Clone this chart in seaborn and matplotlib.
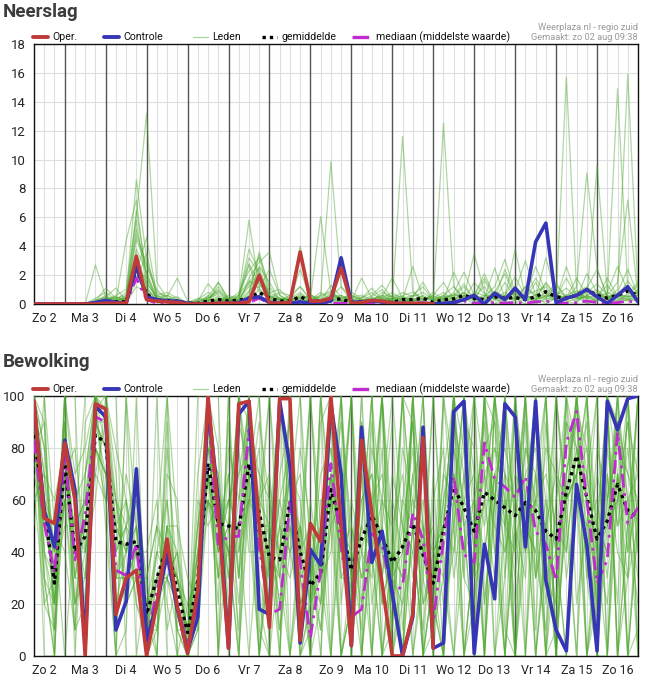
import pandas as pd
import seaborn as sns
import matplotlib

matplotlib.use("Agg")
import matplotlib.pyplot as plt
from matplotlib.lines import Line2D

# tijdstappen (uren vanaf zo 2 aug 00:00), elke 6 uur
uren = list(range(6, 361, 6))
dagen = ["Zo 2", "Ma 3", "Di 4", "Wo 5", "Do 6", "Vr 7", "Za 8", "Zo 9",
         "Ma 10", "Di 11", "Wo 12", "Do 13", "Vr 14", "Za 15", "Zo 16"]

# ---- Neerslag (mm) ----
neer_oper = [0, 0, 0, 0, 0, 0, 0, 0.05, 0.05, 0.05,
             3.3, 0.3, 0.2, 0.15, 0.1, 0, 0, 0, 0.05, 0.05,
             0.05, 0.15, 2.0, 0.05, 0.05, 0.1, 3.6, 0.2, 0.2, 0.4,
             2.5, 0.05, 0.1, 0.25, 0.2, 0.05, 0.05, 0.05, 0.02, 0]
neer_controle = [0, 0, 0, 0, 0, 0, 0.1, 0.25, 0.1, 0.05,
                 2.6, 0.5, 0.3, 0.2, 0.2, 0.05, 0, 0, 0.05, 0.05,
                 0.1, 0.4, 0.5, 0.1, 0.05, 0.05, 0.15, 0.05, 0.1, 0.2,
                 3.2, 0.1, 0.15, 0.2, 0.15, 0.05, 0.05, 0.02, 0, 0,
                 0.05, 0.1, 0.3, 0.6, 0, 0.75, 0.3, 1.1, 0.3, 4.3,
                 5.6, 0.1, 0.4, 0.6, 1.0, 0.5, 0.05, 0.6, 1.2, 0.15]
neer_gem = [0, 0, 0, 0, 0, 0, 0.05, 0.15, 0.15, 0.15,
            2.4, 0.7, 0.2, 0.25, 0.2, 0.05, 0.05, 0.2, 0.3, 0.2,
            0.25, 0.4, 0.8, 0.4, 0.2, 0.2, 0.5, 0.2, 0.2, 0.3,
            0.35, 0.1, 0.15, 0.2, 0.15, 0.1, 0.3, 0.3, 0.4, 0.1,
            0.3, 0.35, 0.6, 0.4, 0.3, 0.5, 0.4, 0.45, 0.3, 0.5,
            0.85, 0.5, 0.4, 0.6, 1.0, 0.6, 0.4, 0.6, 0.9, 0.6]
neer_med = [0, 0, 0, 0, 0, 0, 0, 0.02, 0.02, 0.02,
            1.8, 0.3, 0.05, 0.05, 0.02, 0, 0, 0.02, 0.05, 0.02,
            0.02, 0.1, 0.4, 0.05, 0.02, 0.02, 0.05, 0.02, 0.02, 0.05,
            0.05, 0.02, 0.02, 0.05, 0.02, 0.02, 0.05, 0.05, 0.1, 0.02,
            0.05, 0.1, 0.2, 0.05, 0.05, 0.1, 0.05, 0.1, 0.05, 0.15,
            0.2, 0.1, 0.05, 0.1, 0.2, 0.1, 0.05, 0.1, 0.2, 0.1]
neer_leden = [
    "0 0 0 0 0 0 0 0.3 0.2 0.5  3.5 1.2 0.2 0.1 0 0 0 0.2 0.4 0.1  0.3 1.5 2.5 0.5 0 0 0.3 0.2 0 0.4  0.2 0 0 0.5 1 0.2 0 0.3 0.1 0  0 0.5 1.2 0.3 0 0.8 2.1 0.4 0 0.3  1.5 0.6 0.2 0 1.1 2.4 0.5 0 0.3 1",
    "0 0 0 0 0 0 0.2 1.1 0.4 0.3  5.2 2.1 0.4 0.2 0.1 0 0 0.5 1.5 0.3  0 0.8 3.4 1.2 0.2 0 0.5 0 0.1 0.6  0.3 0.1 0 0 0.4 0.8 0.3 0 0 0.2  0.5 0 0.3 1.5 0.7 0 0.2 0.9 3 0.6  0 0.4 1.8 0.5 0 0.3 0.8 2.6 0.9 0.2",
    "0 0 0 0 0 0 2.7 0.5 0.1 0.6  8.6 3.1 0.6 0.3 0 0 0 0 0.3 0.2  0.5 5.8 1.1 0.3 0 0.4 1.2 0.3 0 0.2  0.1 0.3 0 0 0.2 0.1 0 0.6 1.2 0.2  0 0.3 0.8 0.2 1.6 0.4 0 0.3 0.5 1.8  0.7 0.2 15.7 1 0 0.5 1.3 0.4 0.2 0.8",
    "0 0 0 0 0 0 0 0.2 0.6 1  6.1 13.2 1.5 0.4 0.2 0 0 0.3 0.8 0.2  0 1.8 2.9 3.6 0.6 0.2 0 0.3 0.6 9.85  1.2 0.2 0 0.3 0.6 0.2 0.3 0.5 0.8 0.3  0.6 1.2 0.4 0 0.5 1.2 3.1 0.8 0.3 0  0.4 1.3 0.5 0.2 0.6 1 0.3 0.8 2.4 0.6",
    "0 0 0 0 0 0 0.1 0.5 1.1 0.2  4.5 2.6 0.8 0.5 1.8 0.2 0 0.1 1.5 0.4  0.2 0.6 3.6 0.8 1 0.3 4 0.7 0 0.5  0.2 0.6 0.3 0.1 0.4 0.2 11.6 0.9 0.3 0  0.2 0.8 2.2 0.6 0.3 0 0.6 1.9 0.5 0.2  0.9 0.4 0.3 1.2 9.07 2.5 0.5 0.2 0.7 1.5",
    "0 0 0 0 0 0 0.4 0.8 0.3 0.2  2.4 1.8 0.3 0.6 0.2 0 0.3 0.8 0.5 0.1  0.6 2.8 1.4 0.4 0.8 0.6 1.2 0.3 6.05 0.8  0.2 0 0.4 0.8 0.2 0.6 0.5 0.2 0.4 0.3  12.5 1.2 0.3 0.6 2.1 0.5 0.3 0.4 1.2 0.6  0.3 0.6 1.1 0.4 0.3 9.6 0.8 0.5 0.3 0.2",
    "0 0 0 0 0 0 0 0.3 0.2 4.4  7.2 1.5 0.4 0.2 0.3 0 0 0.4 0.9 0.2  0.4 3.8 2.2 0.5 0.3 0.2 0.4 0.5 0.2 1.3  0.5 0.3 0.2 0.6 1.3 0.4 0.2 0.3 0.6 0.2  0.4 0.7 0.5 3.5 0.8 0.3 1.5 0.4 0.6 2.6  0.8 0.3 0.6 0.9 0.4 0.2 0.6 14.9 1.1 0.4",
    "0 0 0 0 0 0 0.2 0.6 0.2 0.4  3.1 0.9 0.5 0.3 0.2 0.1 0.4 0.2 1.2 0.3  0.8 2.3 3.2 0.6 0.2 0.3 2.4 0.4 0.3 0.6  0.3 0.2 0.5 0.2 0.4 0.3 0.6 0.8 0.3 0.4  0.8 0.3 0.6 0.4 0.3 0.9 0.5 0.7 0.4 0.6  1.4 0.5 0.4 0.8 1.2 0.6 0.4 1 15.9 0.8",
    "0 0 0 0 0 0 0 0.1 0.3 0.8  2.2 4.6 0.6 0.8 0.4 0.1 0 0.3 0.2 0.6  0.3 1.2 1.9 0.8 0.4 0.2 0.6 0.2 0.5 0.8  0.4 0.6 0.3 0.2 0.5 1.8 0.4 0.3 0.2 0.6  1.5 0.3 0.2 0.8 0.6 0.4 2.4 0.6 0.3 0.4  3.2 0.6 0.5 0.4 2.1 0.8 0.6 1.5 7.2 0.5",
    "0 0 0 0 0 0 0.3 0.4 0.1 0.2  1.6 3.5 0.4 0.2 0.1 0 0.2 1.4 0.6 0.2  0.2 0.5 2.6 1.5 0.3 0.4 0.8 0.2 0.2 0.5  1.2 0.5 0.6 0.3 0.2 0.4 0.8 0.5 1.5 0.3  0.5 0.6 1.4 0.3 0.4 2.5 0.4 0.3 1.2 0.5  0.6 1.5 0.3 0.6 0.5 0.4 1.8 0.5 0.6 1.3",
    "0 0 0 0 0 0 0 0.2 0.5 0.3  5.8 1.1 0.2 0.4 0.2 0 0 0.2 0.3 0.4  0.6 1.6 1.1 2.4 0.6 0.2 0.3 0.6 0.4 0.2  0.6 0.2 1.8 0.4 0.3 0.2 0.5 0.3 0.2 0.8  0.3 2.2 0.6 0.5 1.2 0.3 0.6 0.4 0.3 1.5  0.4 0.3 2.6 0.5 0.4 0.3 0.5 0.6 0.3 0.4",
    "0 0 0 0 0 0 0.1 0.2 0.4 0.6  3.8 2.2 0.4 0.3 0.5 0 0.1 0.6 0.4 0.2  0.3 2.7 0.8 0.4 0.2 0.5 0.2 0.3 0.8 0.3  0.2 0.4 0.3 0.2 0.8 0.5 0.3 2.6 0.4 0.2  0.6 0.4 0.3 0.6 1.8 0.6 0.4 3.8 0.5 0.3  0.5 0.6 0.4 1.8 0.6 0.8 0.4 0.5 1.6 0.7",
    "0 0 0 0 0 0 0 0 0.2 0.1  1.2 0.8 0.2 0.1 0 0 0 0.1 0.3 0.1  0.1 0.4 1 0.3 0.1 0 0.2 0.1 0.1 0.3  0.1 0.1 0.2 0.1 0.2 0.1 0.3 0.2 0.1 0.1  0.3 0.2 0.4 0.2 0.1 0.3 0.2 0.1 0.3 0.2  0.2 0.4 0.2 0.3 0.6 0.2 0.3 0.2 0.4 0.3",
    "0 0 0 0 0 0 0.2 0.5 0.3 0.4  4.8 2.8 1 0.3 0.2 0.1 0.2 0.3 0.2 0.4  0.2 0.9 1.6 0.6 0.4 0.3 0.5 0.2 0.6 0.9  0.3 0.8 0.4 1.1 0.3 0.4 0.2 0.4 0.3 0.6  0.2 0.5 0.8 0.3 0.5 0.4 0.8 0.3 0.6 0.9  1.2 0.3 0.5 0.4 0.8 1.4 0.6 0.3 0.5 0.6",
    "0 0 0 0 0 0 0 0.4 0.2 0.3  6.5 1.9 0.3 0.2 0.1 0 0.1 0.5 0.2 0.3  0.5 3.2 2.1 0.3 0.4 0.2 0.7 0.3 0.2 0.5  0.6 0.3 0.2 0.4 0.5 0.3 0.4 0.6 0.5 0.3  0.4 0.6 0.5 0.4 0.6 0.5 0.3 0.8 0.6 0.4  0.5 0.8 0.6 0.5 0.4 0.6 0.5 0.7 0.5 0.8",
    "0 0 0 0 0 0 0.1 0.3 0.5 0.2  2.9 1.4 0.5 0.6 0.3 0 0.3 0.4 1 0.3  0.3 1.4 2 0.5 0.3 0.6 0.4 0.6 0.3 0.7  0.4 0.5 0.3 0.3 0.6 0.5 0.3 0.2 0.4 0.5  0.3 0.4 0.6 0.5 0.3 0.6 0.5 0.4 0.6 0.3  0.6 0.5 0.4 0.7 0.5 0.6 0.4 0.6 0.5 0.6",
]

# ---- Bewolking (%) ----
bew_oper = [98, 53, 51, 82, 60, 0, 97, 95, 16, 30,
            33, 0, 20, 45, 19, 1, 25, 100, 55, 3,
            97, 98, 50, 11, 99, 99, 6, 51, 44, 100,
            50, 4, 83, 55, 28, 0, 0, 16, 84, 3]
bew_controle = [97, 56, 42, 83, 64, 5, 96, 92, 10, 21,
                72, 6, 20, 39, 18, 2, 15, 97, 60, 3,
                93, 98, 18, 16, 98, 73, 5, 41, 35, 97,
                70, 4, 88, 36, 48, 24, 0, 15, 88, 3,
                5, 94, 98, 1, 43, 22, 97, 92, 42, 98,
                29, 10, 2, 66, 43, 2, 98, 87, 99, 100]
bew_gem = [85, 57, 28, 74, 40, 46, 85, 82, 44, 43,
           44, 16, 30, 42, 25, 9, 29, 74, 51, 50,
           49, 74, 55, 38, 37, 59, 40, 27, 32, 64,
           50, 33, 45, 54, 46, 36, 42, 51, 39, 28,
           48, 65, 57, 48, 63, 60, 57, 54, 59, 56,
           48, 45, 63, 77, 61, 45, 52, 66, 56, 53]
bew_med = [83, 51, 32, 78, 37, 54, 92, 90, 33, 31,
           43, 6, 25, 41, 20, 4, 19, 95, 43, 46,
           46, 87, 42, 16, 18, 59, 36, 7, 33, 74,
           42, 15, 18, 47, 43, 24, 27, 55, 45, 13,
           45, 69, 39, 36, 82, 68, 65, 61, 69, 48,
           43, 29, 82, 94, 60, 28, 37, 86, 51, 57]
bew_leden = [
    "100 70 20 90 30 60 100 95 30 50  60 5 20 60 10 0 20 90 60 40  70 95 60 20 40 80 30 10 40 90  70 20 60 70 40 20 50 80 30 10  60 90 70 30 80 90 50 40 70 80  30 20 70 95 80 30 60 90 70 50",
    "90 40 10 60 50 30 95 100 60 30  40 20 40 30 20 5 40 60 30 70  30 80 40 50 20 60 50 30 20 70  40 50 30 60 70 30 20 40 60 30  40 70 50 60 40 70 80 60 40 60  70 50 40 80 50 60 30 70 40 60",
    "100 80 40 80 20 50 90 70 50 60  20 10 10 50 40 0 10 100 40 60  50 60 80 30 60 40 20 40 10 50  60 30 50 40 30 60 40 60 20 40  30 50 80 40 70 50 40 70 60 30  50 70 60 70 90 20 80 50 80 40",
    "70 50 30 100 60 20 100 90 20 40  70 0 30 40 30 10 50 80 70 30  60 100 50 40 30 70 60 20 50 80  30 40 20 80 60 50 70 30 50 20  70 60 40 50 90 40 60 30 80 70  40 30 90 60 40 70 50 90 60 30",
    "95 30 0 70 80 40 60 100 70 20  30 30 50 20 0 20 30 70 20 90  40 60 90 60 10 40 80 50 30 100  20 60 40 30 80 10 60 90 40 50  20 40 90 80 20 60 100 50 30 90  60 10 50 100 70 40 20 60 90 70",
    "100 60 50 40 10 70 100 80 40 70  50 15 0 70 60 0 40 100 80 10  90 70 30 10 70 90 10 60 30 40  80 10 70 50 20 40 30 70 80 40  50 80 30 20 60 100 30 80 50 40  10 60 80 90 60 20 70 40 30 80",
    "80 90 30 60 40 10 80 60 60 20  40 40 60 10 30 10 10 60 50 50  10 90 70 60 40 30 50 0 60 60  50 40 10 90 30 70 50 40 10 60  80 30 60 70 50 80 60 20 60 100  30 40 60 70 80 50 40 100 50 20",
    "100 40 20 100 70 80 100 100 80 60  30 10 20 50 50 30 20 90 30 80  60 80 50 20 50 70 20 30 70 80  60 30 90 20 50 30 40 90 20 30  70 100 80 40 60 30 70 60 90 30  60 40 70 90 30 80 60 80 70 60",
    "60 70 60 80 20 40 70 90 20 30  50 0 30 30 10 0 60 50 60 30  80 40 40 40 10 50 40 50 30 70  40 20 40 60 40 20 60 50 40 10  30 70 40 60 80 60 50 90 40 70  20 80 30 60 50 30 90 50 60 70",
    "90 20 30 50 50 60 90 80 60 50  70 25 10 80 30 10 20 70 40 60  20 70 60 70 30 60 70 30 10 60  90 50 30 40 60 30 80 60 50 40  50 40 70 30 40 70 40 60 50 40  80 70 40 80 60 50 40 70 30 50",
    "100 90 10 90 40 50 100 90 50 20  30 10 40 40 20 5 30 80 70 20  50 90 40 30 60 80 40 20 40 90  30 30 60 70 20 40 30 70 40 30  60 80 60 50 70 80 70 40 80 60  50 20 90 80 70 40 50 60 90 40",
    "75 50 40 70 30 30 80 70 30 40  40 20 20 30 40 15 40 60 50 70  30 60 50 50 20 50 30 40 20 50  100 40 80 0 50 90 10 50 100 20  0 60 100 70 0 100 60 0 40 100  0 60 100 20 50 100 0 90 40 100",
    "100 60 20 80 60 70 90 80 40 50  20 5 40 60 20 0 10 90 50 60  70 80 70 30 50 40 50 20 30 70  0 20 90 60 100 0 20 100 50 0  100 70 0 40 100 40 0 60 100 10  90 40 0 70 100 10 70 20 100 0",
    "85 30 20 60 10 20 100 90 60 40  60 30 50 40 30 20 30 70 30 40  40 70 60 50 40 70 20 30 50 60  40 100 20 40 0 40 100 0 30 100  30 0 40 100 70 0 30 100 0 70  100 0 60 100 0 30 100 0 50 100",
    "100 80 30 70 50 60 70 60 30 60  40 10 20 50 10 10 50 80 60 40  0 70 100 40 0 60 100 40 0 60  100 30 0 50 100 30 0 50 40 100  40 0 70 100 20 70 0 50 100 0  40 100 60 0 70 100 0 70 0 50",
    "65 20 10 90 40 40 80 70 30 30  30 0 10 30 40 0 20 60 40 50  100 60 0 40 100 50 0 20 100 50  0 20 100 40 0 40 100 50 0 30  100 50 0 40 60 100 50 0 50 60  0 40 100 60 0 50 100 0 100 50",
    "100 50 30 80 30 50 100 100 50 40  50 20 30 40 30 5 30 90 60 50  50 100 20 0 40 100 40 0 20 100  50 0 50 100 50 0 40 100 0 30  50 100 50 0 100 60 0 100 60 0  40 0 100 80 60 0 60 100 60 0",
    "95 70 40 60 20 30 90 80 30 30  40 15 30 30 20 10 20 70 50 40  0 60 60 100 50 0 30 100 30 0  60 100 40 0 60 100 50 0 40 20  0 50 100 60 0 60 100 50 0 60  100 40 0 70 100 40 0 60 100 50",
    "80 60 20 70 50 40 90 90 40 50  40 20 20 50 30 10 40 70 40 50  100 70 0 40 100 60 0 20 100 60  0 30 50 100 0 30 100 50 0 30  50 100 0 40 100 0 50 100 60 0  50 100 60 70 0 40 100 70 0 60",
    "100 40 30 80 40 50 80 70 50 40  50 10 30 40 20 5 30 80 50 40  50 0 50 100 30 0 40 100 30 70  50 100 0 40 100 40 0 50 100 30  0 60 100 50 0 60 100 0 60 100  50 0 60 100 60 0 50 100 0 50",
    "100 100 0 100 10 90 100 100 0 10  100 0 0 90 0 0 0 100 100 0  100 90 10 0 100 100 0 10 90 100  0 20 100 100 0 10 100 90 0 10  100 100 0 20 100 90 10 0 100 100  0 10 100 100 0 20 100 90 0 10",
    "100 0 0 100 100 0 100 100 100 0  0 0 100 0 0 0 100 100 0 100  0 100 100 0 0 100 100 0 0 100  100 0 0 100 100 0 0 100 100 0  0 100 100 0 0 100 100 0 0 100  100 0 0 100 100 0 0 100 100 0",
    "50 100 50 0 50 100 100 50 0 100  50 0 50 100 50 0 50 100 0 50  100 50 0 50 100 0 50 100 50 0  50 100 0 50 100 50 0 100 50 0  50 100 50 0 100 50 0 50 100 50  0 100 50 0 100 50 100 0 50 100",
    "100 30 0 100 0 70 100 60 0 100  0 30 0 100 0 0 70 100 0 100  30 100 0 70 0 100 30 0 100 0  100 0 70 0 100 0 30 100 0 70  0 100 30 100 0 100 70 0 100 30  100 0 70 100 30 0 100 0 30 100",
]

ROOD = "#c03a3a"
BLAUW = "#3535b5"
GROEN = "#4ea82e"
MAGENTA = "#c02ad0"
W, H = 649, 680


def leden_frame(rijen):
    recs = []
    for lid, rij in enumerate(rijen):
        for uur, waarde in zip(uren, rij.split()):
            recs.append((lid, uur, float(waarde)))
    return pd.DataFrame(recs, columns=["lid", "uur", "waarde"])


def legenda(fig, y_px, top_px):
    # sleutel: (x-start lijn, x-start tekst, label, lijnstijl)
    items = [
        (33, 52, "Oper.", dict(color=ROOD, lw=2.8)),
        (104, 123, "Controle", dict(color=BLAUW, lw=2.8)),
        (193, 212, "Leden", dict(color="#a8d49a", lw=0.9)),
        (262, 281, "gemiddelde", dict(color="black", lw=2.4, ls=(0, (1, 1.2)))),
        (352, 376, "mediaan (middelste waarde)",
         dict(color=MAGENTA, lw=2.4, ls=(0, (5, 2, 1, 2)))),
    ]
    for x0, xt, label, stijl in items:
        fig.add_artist(Line2D([x0 / W, (xt - 4) / W], [1 - y_px / H] * 2,
                              transform=fig.transFigure, **stijl))
        fig.text(xt / W, 1 - y_px / H, label, fontsize=7.6, color="#111111",
                 ha="left", va="center")
    fig.text(638 / W, 1 - (top_px - 17) / H, "Weerplaza.nl - regio zuid",
             ha="right", va="center", fontsize=6.7, color="#999999")
    fig.text(638 / W, 1 - (top_px - 6) / H, "Gemaakt: zo 02 aug 09:38",
             ha="right", va="center", fontsize=6.7, color="#999999")


def paneel(ax, leden, gem, med, controle, oper, ymax, ystap, alpha):
    sns.lineplot(data=leden_frame(leden), x="uur", y="waarde", units="lid",
                 estimator=None, color=GROEN, lw=0.9, alpha=alpha, ax=ax,
                 legend=False, zorder=3)
    sns.lineplot(x=uren, y=gem, color="black", lw=2.4, ls=(0, (1, 1.2)), ax=ax, zorder=4)
    sns.lineplot(x=uren, y=med, color=MAGENTA, lw=2.0, ls=(0, (5, 2, 1, 2)), ax=ax, zorder=5)
    sns.lineplot(x=uren, y=controle, color=BLAUW, lw=2.6, ax=ax, zorder=6)
    sns.lineplot(x=uren[:len(oper)], y=oper, color=ROOD, lw=2.6, ax=ax, zorder=7)

    ax.set_xlim(6, 360)
    ax.set_ylim(0, ymax)
    ax.set_yticks(range(0, ymax + 1, ystap))
    ax.set_xticks([12 + 24 * k for k in range(len(dagen))])
    ax.set_xticklabels(dagen)
    ax.set_xticks(uren, minor=True)
    ax.set_xlabel("")
    ax.set_ylabel("")
    ax.tick_params(which="both", direction="out", length=4, width=0.8,
                   color="#333333", labelsize=9, pad=1.5)
    ax.tick_params(axis="y", labelsize=9.5, pad=2)
    ax.grid(True, which="both", color="#dddddd", lw=0.8, zorder=0)
    ax.set_axisbelow(True)
    for h in range(24, 360, 24):
        ax.axvline(h, color="#555555", lw=1.0, zorder=1)
    for s in ax.spines.values():
        s.set_visible(True)
        s.set_color("#111111")
        s.set_linewidth(1.0)


sns.set_style("white")
plt.rcParams["font.family"] = ["Roboto", "DejaVu Sans"]

fig = plt.figure(figsize=(W / 100, H / 100), dpi=100)
ax1 = fig.add_axes([34 / W, 1 - 304 / H, 604 / W, 260 / H])
ax2 = fig.add_axes([34 / W, 1 - 656 / H, 604 / W, 260 / H])

paneel(ax1, neer_leden, neer_gem, neer_med, neer_controle, neer_oper, 18, 2, 0.45)
paneel(ax2, bew_leden, bew_gem, bew_med, bew_controle, bew_oper, 100, 20, 0.45)
legenda(fig, 37, 44)
legenda(fig, 389, 396)

fig.text(3 / W, 1 - 12 / H, "Neerslag", fontsize=13.5, fontweight="bold",
         color="#3c3c3c", ha="left", va="center")
fig.text(3 / W, 1 - 362 / H, "Bewolking", fontsize=13.5, fontweight="bold",
         color="#3c3c3c", ha="left", va="center")

fig.savefig("out.png", dpi=100)
plt.close(fig)
